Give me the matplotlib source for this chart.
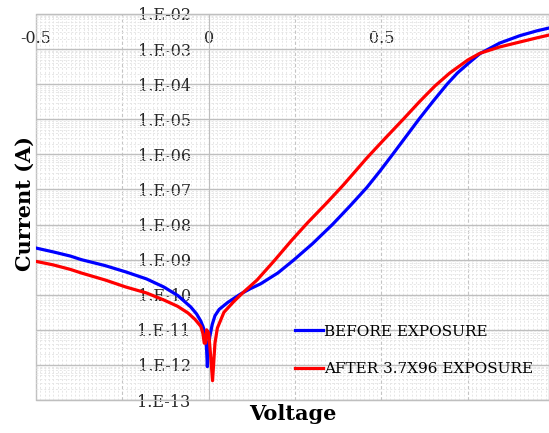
import matplotlib
matplotlib.use('Agg')
import matplotlib.pyplot as plt
import matplotlib.ticker as ticker
import numpy as np

# I-V sweep (voltage in V, log10 of current in A)
v_before = [-0.50, -0.45, -0.40, -0.369, -0.30, -0.24, -0.18, -0.13, -0.09, -0.052,
            -0.035, -0.023, -0.015, -0.009, -0.006, -0.004, -0.002, 0.003, 0.010, 0.018,
            0.030, 0.055, 0.092, 0.12, 0.15, 0.20, 0.245, 0.30, 0.358, 0.41,
            0.458, 0.497, 0.534, 0.572, 0.61, 0.65, 0.69, 0.72, 0.75, 0.785,
            0.842, 0.90, 0.95, 0.985]
log_before = [-8.67, -8.78, -8.90, -9.00, -9.17, -9.35, -9.55, -9.78, -10.02, -10.35,
              -10.55, -10.75, -10.95, -11.20, -11.60, -12.05, -11.60, -11.20, -10.85, -10.60,
              -10.42, -10.22, -9.98, -9.83, -9.69, -9.38, -9.02, -8.55, -8.00, -7.46,
              -6.94, -6.46, -5.98, -5.48, -4.98, -4.48, -4.00, -3.68, -3.42, -3.13,
              -2.83, -2.62, -2.48, -2.40]

v_after = [-0.50, -0.45, -0.40, -0.369, -0.30, -0.24, -0.18, -0.13, -0.09, -0.06,
           -0.04, -0.023, -0.017, -0.013, -0.009, -0.006, 0.0, 0.006, 0.011, 0.014,
           0.018, 0.025, 0.044, 0.072, 0.098, 0.14, 0.188, 0.24, 0.286, 0.34,
           0.39, 0.458, 0.51, 0.563, 0.61, 0.655, 0.698, 0.75, 0.785, 0.842,
           0.90, 0.95, 0.985]
log_after = [-9.05, -9.15, -9.28, -9.38, -9.58, -9.78, -9.95, -10.15, -10.33, -10.52,
             -10.70, -10.90, -11.10, -11.38, -11.38, -11.00, -11.10, -11.80, -12.45, -12.00,
             -11.38, -10.95, -10.50, -10.20, -9.95, -9.58, -9.05, -8.45, -7.95, -7.40,
             -6.87, -6.10, -5.55, -5.00, -4.50, -4.05, -3.68, -3.31, -3.12, -2.94,
             -2.80, -2.68, -2.60]

decades = [-13, -12, -11, -10, -9, -8, -7, -6, -5, -4, -3, -2]

label_before = 'BEFORE EXPOSURE'
label_after = 'AFTER 3.7X96 EXPOSURE'

i_before = 10 ** np.array(log_before)
i_after = 10 ** np.array(log_after)

plt.rcParams['font.family'] = ['DejaVu Serif']

fig = plt.figure(figsize=(5.49, 4.33), dpi=100)
ax = fig.add_axes([0.0656, 0.0762, 0.9344, 0.8915])

ax.plot(v_before, i_before, color='#0000ff', lw=2.3, label=label_before, zorder=3)
ax.plot(v_after, i_after, color='#ff0000', lw=2.3, label=label_after, zorder=4)

ax.set_yscale('log')
ax.set_ylim(1e-13, 1e-2)
ax.set_xlim(-0.5, 0.985)

# grid: solid decades, dashed quarter volts, light dotted minors
ax.xaxis.set_major_locator(ticker.MultipleLocator(0.25))
ax.xaxis.set_minor_locator(ticker.MultipleLocator(0.0125))
ax.yaxis.set_major_locator(ticker.FixedLocator([10.0 ** d for d in decades]))
minor = [m * 10.0 ** d for d in decades[:-1] for m in range(2, 10)]
ax.yaxis.set_minor_locator(ticker.FixedLocator(minor))
ax.grid(True, axis='y', which='major', color='#bfbfbf', lw=1.0, ls='-')
ax.grid(True, axis='x', which='major', color='#c4c4c4', lw=0.8, ls=(0, (3, 2)))
ax.grid(True, axis='both', which='minor', color='#e6e6e6', lw=0.7, ls=(0, (2, 2)))
ax.set_axisbelow(True)

# y axis sits at V = 0, frame in light gray
for side in ['top', 'right', 'bottom']:
    ax.spines[side].set_color('#bfbfbf')
ax.spines['left'].set_position(('data', 0))
ax.spines['left'].set_color('#bfbfbf')
ax.patch.set_edgecolor('#bfbfbf')
ax.patch.set_linewidth(1.0)

def ylab(y, pos):
    return '1.E-%02d' % round(-np.log10(y))

def xlab(x, pos):
    if abs(x / 0.5 - round(x / 0.5)) < 1e-6:
        return '%g' % x
    return ''

ax.yaxis.set_major_formatter(ticker.FuncFormatter(ylab))
ax.yaxis.set_minor_formatter(ticker.NullFormatter())
ax.tick_params(axis='y', which='both', length=0, pad=13, labelsize=11.5, colors='#262626')
ax.xaxis.set_major_formatter(ticker.FuncFormatter(xlab))
ax.tick_params(axis='x', which='both', length=0, bottom=False, top=False,
               labelbottom=False, labeltop=True, pad=-24, labelsize=11.5, colors='#262626')

ax.set_xlabel('Voltage', fontsize=15, fontweight='bold', labelpad=3)
ax.xaxis.set_label_position('bottom')
ax.set_ylabel('Current (A)', fontsize=15, fontweight='bold')
ax.yaxis.set_label_coords(-0.003, 0.51)

ax.legend(loc='upper left', bbox_to_anchor=(0.505, 0.195), frameon=False,
          fontsize=11, handlelength=1.8, handletextpad=0.1, labelspacing=1.55,
          borderpad=0, borderaxespad=0)

fig.savefig('out.png', dpi=100)
